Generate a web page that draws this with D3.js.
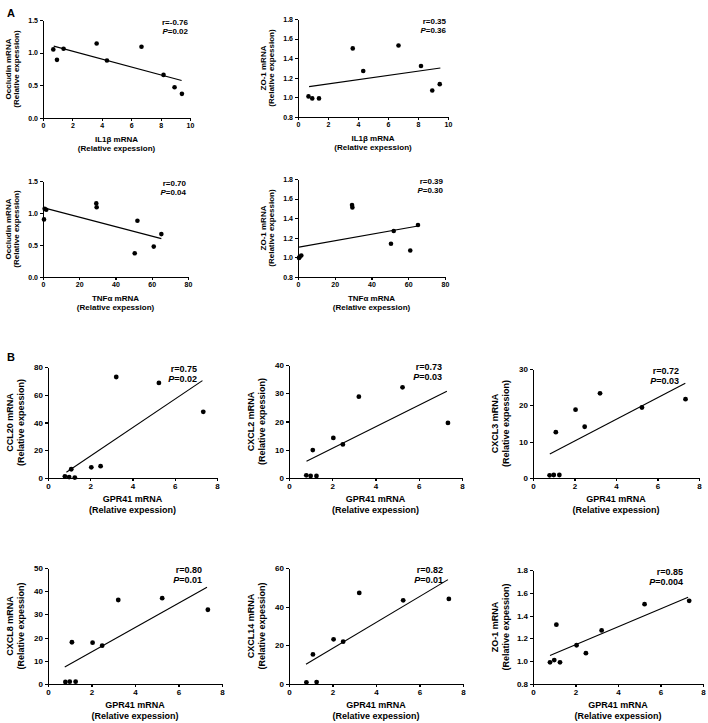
<!DOCTYPE html>
<html>
<head>
<meta charset="utf-8">
<script src="https://cdn.jsdelivr.net/npm/d3@7"></script>
<style>
  html, body { margin: 0; padding: 0; background: #fff; }
  svg text { font-family: "Liberation Sans", Arial, sans-serif; font-weight: bold; fill: #000; }
</style>
</head>
<body>
<svg id="chart" width="708" height="723"></svg>
<script>
// ---------------- DATA ----------------
// Panel A
const il1b      = [0.70, 0.95, 1.40, 3.65, 4.35, 6.70, 8.20, 8.95, 9.45];
const occludinA1 = [1.05, 0.89, 1.06, 1.14, 0.88, 1.09, 0.66, 0.47, 0.37];
const zo1A2      = [1.01, 0.99, 0.99, 1.50, 1.27, 1.53, 1.32, 1.07, 1.135];
const tnfa      = [0.55, 0.90, 1.80, 29.4, 29.6, 50.6, 52.1, 61.1, 65.3];
const occludinA3 = [0.90, 1.066, 1.05, 1.15, 1.09, 0.37, 0.88, 0.475, 0.67];
const zo1A4      = [0.995, 1.005, 1.02, 1.535, 1.51, 1.14, 1.27, 1.07, 1.33];
// Panel B
const gpr41  = [0.80, 1.00, 1.10, 1.27, 2.05, 2.49, 3.23, 5.25, 7.35];
const ccl20  = [1.2, 0.7, 6.3, 0.3, 7.7, 8.5, 72.8, 68.5, 47.7];
const cxcl2  = [0.94, 0.7, 9.9, 0.7, 14.2, 11.9, 28.8, 32.1, 19.5];
const cxcl3  = [0.73, 0.83, 12.6, 0.83, 18.8, 14.1, 23.3, 19.4, 21.7];
const cxcl8  = [0.86, 1.0, 18.0, 1.0, 17.8, 16.5, 36.2, 37.0, 32.0];
const cxcl14 = [0.86, null, 15.3, 1.0, 23.1, 21.9, 47.1, 43.3, 44.0];
const zo1B6  = [0.99, 1.01, 1.32, 0.99, 1.14, 1.07, 1.27, 1.50, 1.53];

// regression line end points [x0, x1], [y0, y1]
const fitA1 = [[0.73, 9.43], [1.10, 0.575]];
const fitA2 = [[0.74, 9.49], [1.11, 1.30]];
const fitA3 = [[0.55, 65.3], [1.08, 0.60]];
const fitA4 = [[0.55, 65.3], [1.105, 1.32]];
const fitB1 = [[0.87, 7.31], [4.1, 70.2]];
const fitB2 = [[0.81, 7.30], [5.9, 30.7]];
const fitB3 = [[0.81, 7.34], [6.6, 26.1]];
const fitB4 = [[0.77, 7.31], [7.3, 41.7]];
const fitB5 = [[0.78, 7.31], [10.2, 54.0]];
const fitB6 = [[0.80, 7.30], [1.05, 1.56]];

// statistics labels
const rLabels = ["r=-0.76", "r=0.35", "r=0.70", "r=0.39", "r=0.75", "r=0.73", "r=0.72", "r=0.80", "r=0.82", "r=0.85"];
const pLabels = ["=0.02", "=0.36", "=0.04", "=0.30", "=0.02", "=0.03", "=0.03", "=0.01", "=0.01", "=0.004"];

// tick values
const ticksIL1b   = [0, 2, 4, 6, 8, 10];
const ticksTNF    = [0, 20, 40, 60, 80];
const ticksGPR41  = [0, 2, 4, 6, 8];
const ticksOcc    = [0, 0.5, 1.0, 1.5];
const ticksZO1    = [0.8, 1.0, 1.2, 1.4, 1.6, 1.8];
const ticksCCL20  = [0, 20, 40, 60, 80];
const ticksCXCL2  = [0, 10, 20, 30, 40];
const ticksCXCL3  = [0, 10, 20, 30];
const ticksCXCL8  = [0, 10, 20, 30, 40, 50];
const ticksCXCL14 = [0, 20, 40, 60];

const subtitle = "(Relative expession)";

// ---------------- LAYOUT ----------------
const svg = d3.select("#chart");
const styleA = { tick: 7, title: 8, stat: 8, line: 9, yOff: [-32.5, -24.5], xOff: [24, 33], statDx: -2, statDy: [2, 11], r: 2.3 };
const styleB = { tick: 8, title: 9, stat: 9, line: 11, yOff: [-35, -24], xOff: [24, 35], statDx: -20, statDy: [2, 12], r: 2.4 };

const panels = [
  { xs: il1b, ys: occludinA1, fit: fitA1, xt: ticksIL1b, yt: ticksOcc, yf: ".1f", box: [43, 20, 190, 118], yl: "Occludin mRNA", xl: "IL1β mRNA", s: styleA },
  { xs: il1b, ys: zo1A2, fit: fitA2, xt: ticksIL1b, yt: ticksZO1, yf: ".1f", box: [298, 19, 448, 117], yl: "ZO-1 mRNA", xl: "IL1β mRNA", s: styleA },
  { xs: tnfa, ys: occludinA3, fit: fitA3, xt: ticksTNF, yt: ticksOcc, yf: ".1f", box: [43, 181, 188, 277], yl: "Occludin mRNA", xl: "TNFα mRNA", s: styleA },
  { xs: tnfa, ys: zo1A4, fit: fitA4, xt: ticksTNF, yt: ticksZO1, yf: ".1f", box: [298, 179, 445, 277], yl: "ZO-1 mRNA", xl: "TNFα mRNA", s: styleA },
  { xs: gpr41, ys: ccl20, fit: fitB1, xt: ticksGPR41, yt: ticksCCL20, yf: "d", box: [48, 367, 217, 478], yl: "CCL20 mRNA", xl: "GPR41 mRNA", s: styleB },
  { xs: gpr41, ys: cxcl2, fit: fitB2, xt: ticksGPR41, yt: ticksCXCL2, yf: "d", box: [289, 365, 462, 478], yl: "CXCL2 mRNA", xl: "GPR41 mRNA", s: styleB },
  { xs: gpr41, ys: cxcl3, fit: fitB3, xt: ticksGPR41, yt: ticksCXCL3, yf: "d", box: [533, 369, 699, 478], yl: "CXCL3 mRNA", xl: "GPR41 mRNA", s: styleB },
  { xs: gpr41, ys: cxcl8, fit: fitB4, xt: ticksGPR41, yt: ticksCXCL8, yf: "d", box: [48, 568, 222, 684], yl: "CXCL8 mRNA", xl: "GPR41 mRNA", s: styleB },
  { xs: gpr41, ys: cxcl14, fit: fitB5, xt: ticksGPR41, yt: ticksCXCL14, yf: "d", box: [289, 568, 463, 684], yl: "CXCL14 mRNA", xl: "GPR41 mRNA", s: styleB },
  { xs: gpr41, ys: zo1B6, fit: fitB6, xt: ticksGPR41, yt: ticksZO1, yf: ".1f", box: [533, 570, 703, 684], yl: "ZO-1 mRNA", xl: "GPR41 mRNA", s: styleB }
];

panels.forEach((p, i) => {
  const [x0, y0, x1, y1] = p.box;
  const s = p.s;
  const x = d3.scaleLinear().domain(d3.extent(p.xt)).range([x0, x1]);
  const y = d3.scaleLinear().domain(d3.extent(p.yt)).range([y1, y0]);
  const g = svg.append("g");

  const xa = g.append("g").attr("transform", `translate(0,${y1})`)
    .call(d3.axisBottom(x).tickValues(p.xt).tickFormat(d3.format("d")).tickSize(3).tickSizeOuter(0).tickPadding(2));
  const ya = g.append("g").attr("transform", `translate(${x0},0)`)
    .call(d3.axisLeft(y).tickValues(p.yt).tickFormat(d3.format(p.yf)).tickSize(3).tickSizeOuter(0).tickPadding(2));
  [xa, ya].forEach(a => {
    a.selectAll("path, line").attr("stroke", "#000").attr("stroke-width", 1.1).attr("shape-rendering", "crispEdges");
    a.selectAll("text").attr("font-size", s.tick).attr("font-weight", "bold")
      .attr("font-family", '"Liberation Sans", Arial, sans-serif').attr("fill", "#000");
  });

  // regression line
  g.append("line")
    .attr("x1", x(p.fit[0][0])).attr("y1", y(p.fit[1][0]))
    .attr("x2", x(p.fit[0][1])).attr("y2", y(p.fit[1][1]))
    .attr("stroke", "#000").attr("stroke-width", 1.1);

  // points
  const pts = p.xs.map((v, k) => [v, p.ys[k]]).filter(d => d[1] != null);
  g.selectAll("circle.pt").data(pts).enter().append("circle")
    .attr("cx", d => x(d[0])).attr("cy", d => y(d[1])).attr("r", s.r).attr("fill", "#000");

  // stats
  const st = g.append("g");
  st.append("text").attr("x", x1 + s.statDx).attr("y", y0 + s.statDy[0] + s.stat * 0.35)
    .attr("text-anchor", "end").attr("font-size", s.stat).text(rLabels[i]);
  const pt = st.append("text").attr("x", x1 + s.statDx).attr("y", y0 + s.statDy[1] + s.stat * 0.35)
    .attr("text-anchor", "end").attr("font-size", s.stat);
  pt.append("tspan").attr("font-style", "italic").text("P");
  pt.append("tspan").text(pLabels[i]);

  // x title
  const cx = (x0 + x1) / 2;
  g.append("text").attr("x", cx).attr("y", y1 + s.xOff[0]).attr("text-anchor", "middle").attr("font-size", s.title).text(p.xl);
  g.append("text").attr("x", cx).attr("y", y1 + s.xOff[1]).attr("text-anchor", "middle").attr("font-size", s.title).text(subtitle);

  // y title
  const cy = (y0 + y1) / 2;
  g.append("text").attr("transform", `translate(${x0 + s.yOff[0]},${cy}) rotate(-90)`)
    .attr("text-anchor", "middle").attr("font-size", s.title).text(p.yl);
  g.append("text").attr("transform", `translate(${x0 + s.yOff[1]},${cy}) rotate(-90)`)
    .attr("text-anchor", "middle").attr("font-size", s.title).text(subtitle);
});

// panel letters
svg.append("text").attr("x", 7).attr("y", 17).attr("font-size", 11).text("A");
svg.append("text").attr("x", 7).attr("y", 361).attr("font-size", 11).text("B");
</script>
</body>
</html>
